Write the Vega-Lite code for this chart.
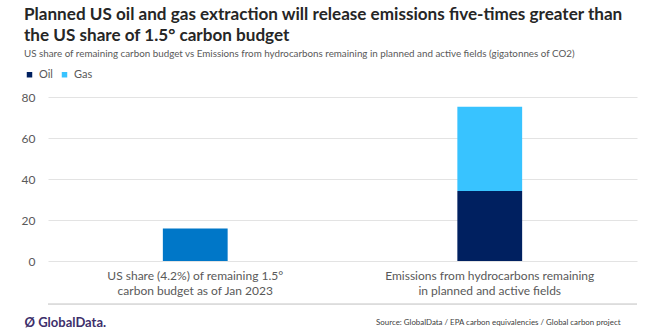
{
  "$schema": "https://vega.github.io/schema/vega-lite/v6.json",
  "autosize": "none",
  "width": 589,
  "height": 164,
  "padding": {"left": 48, "top": 97, "right": 23, "bottom": 69},
  "background": "white",
  "config": {"font": "Lato", "view": {"stroke": null}},
  "title": {
    "text": ["Planned US oil and gas extraction will release emissions five-times greater than", "the US share of 1.5° carbon budget"],
    "subtitle": "US share of remaining carbon budget vs Emissions from hydrocarbons remaining in planned and active fields (gigatonnes of CO2)",
    "anchor": "start",
    "frame": "group",
    "dx": -24,
    "offset": 10,
    "fontSize": 17.1,
    "fontWeight": "bold",
    "color": "#262626",
    "lineHeight": 21,
    "subtitleFontSize": 9.8,
    "subtitleColor": "#595959",
    "subtitlePadding": 5
  },
  "layer": [
    {
      "data": {"values": [
        {"category": "US share (4.2%) of remaining 1.5°|carbon budget as of Jan 2023", "series": "US share", "value": 15.9},
        {"category": "Emissions from hydrocarbons remaining|in planned and active fields", "series": "Oil", "value": 34.2},
        {"category": "Emissions from hydrocarbons remaining|in planned and active fields", "series": "Gas", "value": 41.1}
      ]},
      "mark": {"type": "bar"},
      "encoding": {
        "x": {
          "field": "category", "type": "nominal", "sort": null,
          "scale": {"paddingInner": 0.78, "paddingOuter": 0.39},
          "axis": {
            "labelAngle": 0, "labelExpr": "split(datum.label, '|')", "labelLimit": 400,
            "labelLineHeight": 15, "labelFontSize": 12, "labelColor": "#595959",
            "labelPadding": 9, "ticks": false, "domain": false, "grid": false,
            "title": "Source: GlobalData / EPA carbon equivalencies  / Global carbon project",
            "titleX": 572, "titleY": 61, "titleAlign": "right", "titleBaseline": "middle",
            "titleFontSize": 7.9, "titleFontWeight": "normal", "titleColor": "#404040"
          }
        },
        "y": {
          "field": "value", "type": "quantitative", "stack": "zero",
          "scale": {"domain": [0, 80], "nice": false},
          "axis": {
            "values": [0, 20, 40, 60, 80], "domain": false, "ticks": false,
            "labelPadding": 13, "labelFontSize": 12, "labelColor": "#595959",
            "gridColor": "#e3e3e3",
            "title": "Ø GlobalData.", "titleAngle": 0, "titleX": -24, "titleY": 225,
            "titleAlign": "left", "titleBaseline": "middle", "titleFontSize": 13,
            "titleFontWeight": "bold", "titleColor": "#3d2f6b"
          }
        },
        "color": {
          "field": "series", "type": "nominal",
          "sort": ["Oil", "Gas", "US share"],
          "scale": {"domain": ["Oil", "Gas", "US share"], "range": ["#002060", "#38c3ff", "#0077c8"]},
          "legend": {
            "values": ["Oil", "Gas"], "title": null, "orient": "none",
            "legendX": -24, "legendY": -28, "direction": "horizontal",
            "symbolType": "square", "symbolSize": 30, "symbolStrokeWidth": 0,
            "labelFontSize": 11, "labelColor": "#595959", "labelOffset": 4,
            "columnPadding": 6
          }
        },
        "order": {"field": "series", "sort": "descending"}
      }
    },
    {
      "data": {"values": [{}]},
      "mark": {"type": "rule", "color": "#bfbfbf", "strokeWidth": 1},
      "encoding": {"y": {"datum": -21}}
    }
  ]
}
